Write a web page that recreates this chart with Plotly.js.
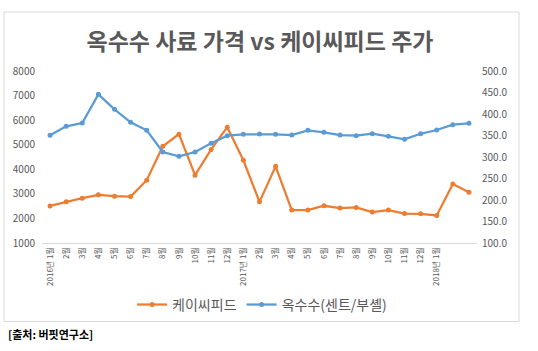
<!DOCTYPE html>
<html>
<head>
<meta charset="utf-8">
<script src="https://cdn.plot.ly/plotly-3.0.1.min.js"></script>
<style>
html,body{margin:0;padding:0;background:#fff;}
#chart{width:538px;height:351px;}
</style>
</head>
<body>
<div id="chart"></div>
<script>
// Tick labels (27 monthly categories, 2016-01 .. 2018-03; last two unlabeled in the original)
var xLabels = ['2016년 1월','2월','3월','4월','5월','6월','7월','8월','9월','10월','11월','12월',
               '2017년 1월','2월','3월','4월','5월','6월','7월','8월','9월','10월','11월','12월',
               '2018년 1월','',''];
// 케이씨피드 주가 (left axis)
var kcFeed = [2510,2675,2825,2960,2905,2890,3555,4935,5430,3760,4810,5715,
              4365,2675,4120,2340,2340,2515,2420,2445,2260,2340,2200,2190,
              2120,3405,3070];
// 옥수수 (센트/부셸) (right axis)
var corn = [350.5,371.4,379.0,445.7,410.9,380.6,362.0,311.6,301.6,311.6,331.9,349.6,
            352.8,353.5,352.8,351.0,362.0,357.4,351.0,349.6,354.2,348.0,341.0,354.0,
            362.8,375.1,378.3];
var leftTicks = [1000,2000,3000,4000,5000,6000,7000,8000];
var rightTicks = [100,150,200,250,300,350,400,450,500];

var idx = xLabels.map(function(_, i){ return i; });
var tickIdx = idx.filter(function(i){ return xLabels[i] !== ''; });

var gray = '#595959';
var font = '"Noto Sans CJK KR", "Noto Sans", sans-serif';

var traces = [
  {
    x: idx, y: kcFeed, name: '케이씨피드', type: 'scatter', mode: 'lines+markers',
    line: {color: '#ED7D31', width: 2.25},
    marker: {color: '#ED7D31', size: 5, symbol: 'circle'},
    yaxis: 'y'
  },
  {
    x: idx, y: corn, name: '옥수수(센트/부셸)', type: 'scatter', mode: 'lines+markers',
    line: {color: '#5B9BD5', width: 2.25},
    marker: {color: '#5B9BD5', size: 5, symbol: 'circle'},
    yaxis: 'y2'
  }
];

var layout = {
  width: 538, height: 351,
  margin: {l: 42, r: 61, t: 71, b: 108},
  paper_bgcolor: '#fff', plot_bgcolor: '#fff',
  font: {family: font, color: gray, size: 10},
  showlegend: true,
  title: {
    text: '<b>옥수수 사료 가격 vs 케이씨피드 주가</b>',
    font: {family: font, size: 23, color: gray},
    x: 260/538, xref: 'container', xanchor: 'center',
    y: 1 - 42/351, yref: 'container', yanchor: 'middle'
  },
  xaxis: {
    range: [-0.5, xLabels.length - 0.5],
    tickmode: 'array',
    tickvals: tickIdx,
    ticktext: tickIdx.map(function(i){ return xLabels[i]; }),
    tickangle: -90,
    tickfont: {size: 8, color: gray, family: font},
    showgrid: false, zeroline: false,
    showline: true, linecolor: '#d9d9d9', linewidth: 1,
    ticks: '', fixedrange: true
  },
  yaxis: {
    range: [1000, 8000],
    tickmode: 'array', tickvals: leftTicks,
    ticktext: leftTicks.map(function(v){ return String(v); }),
    showgrid: false, zeroline: false, showline: false, ticks: '',
    ticklabelstandoff: 6,
    tickfont: {size: 10, color: gray, family: font}
  },
  yaxis2: {
    range: [100, 500],
    overlaying: 'y', side: 'right',
    tickmode: 'array', tickvals: rightTicks,
    ticktext: rightTicks.map(function(v){ return v.toFixed(1); }),
    showgrid: false, zeroline: false, showline: false, ticks: '',
    ticklabelstandoff: 4,
    tickfont: {size: 10, color: gray, family: font}
  },
  legend: {
    orientation: 'h',
    x: 0.506, xanchor: 'center',
    y: -0.36, yanchor: 'middle',
    font: {size: 14, color: gray, family: font},
    bgcolor: 'rgba(0,0,0,0)',
    itemwidth: 30
  },
  shapes: [
    {type: 'rect', xref: 'paper', yref: 'paper',
     x0: (4-42)/435, x1: (519-42)/435, y0: (243-321.5)/172, y1: (243-12)/172,
     line: {color: '#d9d9d9', width: 1}, fillcolor: 'rgba(0,0,0,0)', layer: 'below'}
  ],
  annotations: [
    {text: '<b>[출처: 버핏연구소]</b>', xref: 'paper', yref: 'paper',
     x: (6-42)/435, y: (243-334)/172, xanchor: 'left', yanchor: 'middle',
     showarrow: false, font: {size: 11, color: '#000', family: font}}
  ]
};

Plotly.newPlot('chart', traces, layout, {displayModeBar: false, staticPlot: true});
</script>
</body>
</html>
